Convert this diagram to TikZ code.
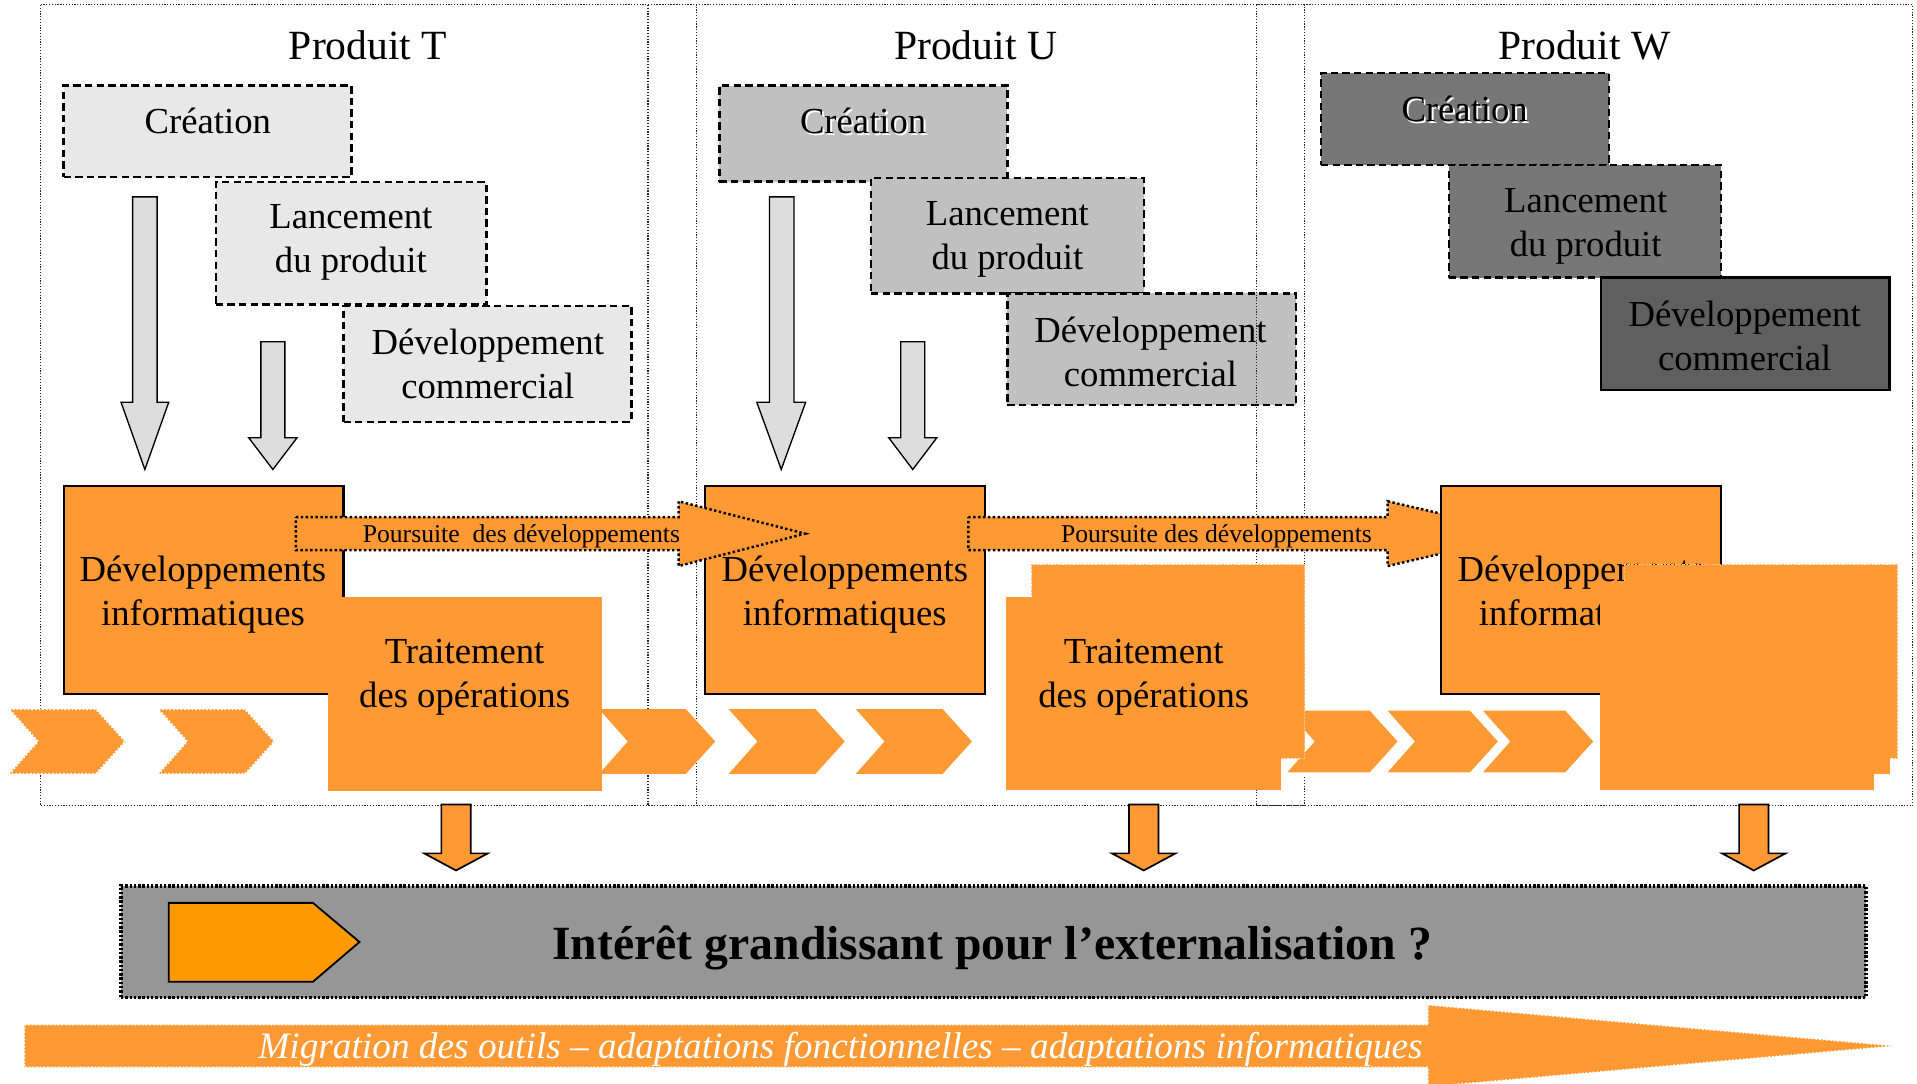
\documentclass[tikz,border=0pt]{standalone}
\usepackage{fontspec}
\setmainfont{Liberation Serif}
\usetikzlibrary{fit,calc}
\definecolor{orA}{HTML}{FF9933}
\definecolor{orB}{HTML}{FF9900}
\definecolor{gT}{HTML}{E8E8E8}
\definecolor{gU}{HTML}{C0C0C0}
\definecolor{gW}{HTML}{777777}
\definecolor{gWd}{HTML}{5F5F5F}
\definecolor{arG}{HTML}{DDDDDD}
\definecolor{bandG}{HTML}{969696}
\newcommand\chevshape[2][]{\path[chev,#1] (#2,580) -- ++(71,0) -- ++(24,26.5) -- ++(-24,26.5) -- ++(-71,0) -- ++(23.5,-26.5) -- cycle;}
\newcommand\odown[1]{\draw[oarrow] (#1,658) ++(-12,0) -- ++(24,0) -- ++(0,40) -- ++(14,0) -- ++(-26,14) -- ++(-26,-14) -- ++(14,0) -- cycle;}
\begin{document}
\begin{tikzpicture}[x=1pt,y=-1pt,
  frame/.style={draw=black!85, line width=0.9pt, dash pattern=on 1pt off 1.3pt},
  dbox/.style={draw=black, line width=1.8pt, dash pattern=on 6pt off 3.5pt, inner sep=0pt},
  sbox/.style={draw=black, line width=1.8pt, inner sep=0pt},
  lbl/.style={font=\fontsize{30}{36}\selectfont, align=center, inner sep=0pt},
  ttl/.style={font=\fontsize{34}{40}\selectfont, inner sep=0pt},
  smalltxt/.style={font=\fontsize{21}{25}\selectfont, inner sep=0pt},
  garrow/.style={fill=arG, draw=black, line width=1.1pt},
  oarrow/.style={fill=orA, draw=black, line width=1.4pt},
  obox/.style={fill=orA, inner sep=0pt},
  dinfo/.style={fill=orA, draw=black, line width=1.8pt, inner sep=0pt},
  pours/.style={fill=orA, draw=black, line width=2pt, dash pattern=on 2pt off 2pt},
  chev/.style={fill=orA},
  chevdot/.style={draw=white, line width=1.6pt, dash pattern=on 1.5pt off 1.5pt},
  chevw/.style={draw=white, line width=2.5pt, line join=miter}
]
\useasboundingbox (0,0) rectangle (1568,886);

% ---------- gray phase boxes ----------
% Produit T
\node[dbox, fill=gT, fit={(52,70) (287.5,145)}] (creaT) {};
\node[dbox, fill=gT, fit={(176.5,149) (398,249)}] (lancT) {};
\node[dbox, fill=gT, fit={(281,250) (516.5,345)}] (devcT) {};
\node[lbl] (creaTt) at (170,99) {Création};
\node[lbl] (lancTt) at (287,198.5) {Lancement\\du produit};
\node[lbl] (devcTt) at (399,297.5) {Développement\\commercial};
% Produit U
\node[dbox, fill=gU, fit={(588.5,70) (824,148.5)}] (creaU) {};
\node[dbox, fill=gU, fit={(712.5,145.5) (935.5,240)}] (lancU) {};
\node[dbox, fill=gU, fit={(824,240) (1060,331.5)}] (devcU) {};
\node[lbl, white] (creaUs) at (707.5,100.5) {Création};
\node[lbl] (creaUt) at (706,99) {Création};
\node[lbl] (lancUt) at (824,195.5) {Lancement\\du produit};
\node[lbl] (devcUt) at (941,287.5) {Développement\\commercial};
% Produit W
\node[dbox, fill=gW, fit={(1080.5,60) (1316,135)}] (creaW) {};
\node[dbox, fill=gW, fit={(1185,135) (1407.5,227)}] (lancW) {};
\node[sbox, fill=gWd, fit={(1309.5,227) (1545.5,319)}] (devcW) {};
\node[lbl, white] (creaWs) at (1199.5,90.5) {Création};
\node[lbl] (creaWt) at (1198,89) {Création};
\node[lbl] (lancWt) at (1297,185.5) {Lancement\\du produit};
\node[lbl] (devcWt) at (1427,275) {Développement\\commercial};

% ---------- frames ----------
\path[frame] (33,4) rectangle (570,659);
\path[frame] (530,4) rectangle (1067,659);
\path[frame] (1028,4) rectangle (1564.5,659);

% ---------- titles ----------
\node[ttl] (tT) at (301,37) {Produit T};
\node[ttl] (tU) at (798,37) {Produit U};
\node[ttl] (tW) at (1296,37) {Produit W};

% ---------- gray down arrows ----------
\draw[garrow] (108.5,161) -- (128.5,161) -- (128.5,329) -- (138,329) -- (118.5,384) -- (99,329) -- (108.5,329) -- cycle;
\draw[garrow] (213.4,279.5) -- (233,279.5) -- (233,358) -- (243,358) -- (223.2,384) -- (203.4,358) -- (213.4,358) -- cycle;
\draw[garrow] (629.4,161) -- (649.5,161) -- (649.5,329) -- (659,329) -- (639,384) -- (619,329) -- (629.4,329) -- cycle;
\draw[garrow] (736.7,279.5) -- (756.4,279.5) -- (756.4,358) -- (766.3,358) -- (746.6,384) -- (726.9,358) -- (736.7,358) -- cycle;

% ---------- chevrons ----------
\chevshape[chevdot]{7.5}
\chevshape[chevdot]{129.5}
\chevshape{490}
\chevshape{596}
\chevshape{700}
\chevshape[chevw]{1050}
\chevshape[chevw]{1132}
\chevshape[chevw]{1210}

% ---------- IT development boxes ----------
\node[dinfo, fit={(52.2,397.3) (281,567.7)}] (diT) {};
\node[lbl] (diTt) at (166,486) {Développements\\informatiques};
\node[obox, fit={(268.4,488.5) (492.2,647)}] (trT) {};
\node[lbl] (trTt) at (380,554) {Traitement\\des opérations};

\node[dinfo, fit={(576.4,397.3) (805.7,567.7)}] (diU) {};
\node[lbl] (diUt) at (691,486) {Développements\\informatiques};

% Poursuite 1
\path[pours] (242,423) -- (555,423) -- (555,410) -- (658.5,436.5) -- (555,463) -- (555,450) -- (242,450) -- cycle;
\node[smalltxt] (p1) at (426.5,439) {Poursuite\ \ des développements};
% Poursuite 2
\path[pours] (792,423) -- (1135,423) -- (1135,410) -- (1249,436.5) -- (1135,463) -- (1135,450) -- (792,450) -- cycle;
\node[smalltxt] (p2) at (995,439) {Poursuite des développements};

\node[dinfo, fit={(1178.7,397.3) (1407.5,567.7)}] (diW) {};
\node[lbl] (diWt) at (1293,486) {Développements\\informatiques};

% Traitement U
\node[obox, draw=orA!60!white, line width=0.8pt, dash pattern=on 2pt off 1pt, fit={(844,462) (1067,620)}] (trUb) {};
\node[obox, fit={(823,488.5) (1048,646)}] (trU) {};
\node[lbl] (trUt) at (935.5,554) {Traitement\\des opérations};

% Traitement W (no text)
\node[obox, draw=orA!60!white, line width=0.8pt, dash pattern=on 2pt off 1pt, fit={(1329,462) (1552,620)}] (trWb) {};
\node[obox, fit={(1320,475) (1546,633)}] (trWm) {};
\node[obox, fit={(1309,488.5) (1533,646)}] (trW) {};

% ---------- orange down arrows ----------
\odown{373}
\odown{935.5}
\odown{1434.5}

% ---------- band ----------
\node[fill=bandG, draw=black, line width=3pt, dash pattern=on 2pt off 1.5pt, inner sep=0pt, fit={(99,724.5) (1526,816)}] (band) {};
\draw[fill=orB, draw=black, line width=1.5pt] (138,738.5) -- (256,738.5) -- (294,770.5) -- (256,803) -- (138,803) -- cycle;
\node[font=\fontsize{39}{44}\selectfont\bfseries, inner sep=0pt] (bandt) at (811.5,775) {Intérêt grandissant pour l’externalisation ?};

% ---------- bottom arrow ----------
\path[fill=orA, draw=white, line width=1.2pt, dash pattern=on 1.5pt off 1.5pt] (20,838) -- (1168,838) -- (1168,822) -- (1550,855.5) -- (1168,889) -- (1168,873) -- (20,873) -- cycle;
\node[font=\fontsize{30.5}{34}\selectfont\itshape, text=white, inner sep=0pt] (migr) at (687.5,858) {Migration des outils – adaptations fonctionnelles – adaptations informatiques};
\end{tikzpicture}
\end{document}
